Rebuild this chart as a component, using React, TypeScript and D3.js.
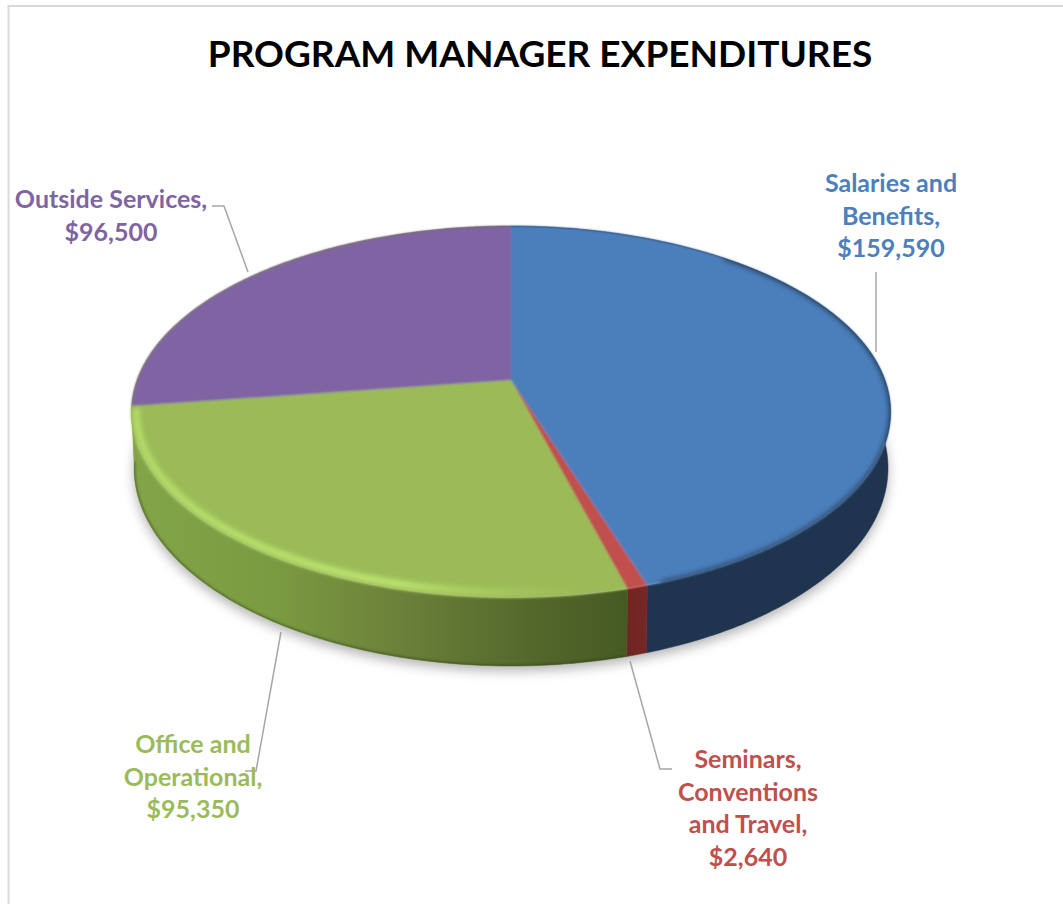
import React from "react";
import * as d3 from "d3";

const categories = ["Salaries and Benefits", "Seminars, Conventions and Travel", "Office and Operational", "Outside Services"];
const values = [159590, 2640, 95350, 96500];
const faceColors = ["#4c7fbc", "#c0504d", "#9bbb59", "#8064a2"];
const sideColors = ["#1f344f", "url(#redSide)", "url(#greenSide)", "url(#greenSide)"];
const labelLines = [
  ["Salaries and", "Benefits,", "$159,590"],
  ["Seminars,", "Conventions", "and Travel,", "$2,640"],
  ["Office and", "Operational,", "$95,350"],
  ["Outside Services,", "$96,500"],
];
const labelAnchors = [
  { x: 891, y: 192 },
  { x: 748, y: 768 },
  { x: 193, y: 753 },
  { x: 111, y: 208 },
];
const leaders = [
  [[876, 272], [876, 352]],
  [[630, 661], [660, 769], [672, 769]],
  [[245, 771], [256, 771], [281, 632]],
  [[212, 206], [224, 206], [248, 272]],
];

const W = 1063, H = 904;
const apex = { x: 511, y: 380 };
const persp = -0.172, ky = 180.5, kx = 374;
const rimCenterY = 412;

const project = (t: number) => {
  const X = Math.sin(t), Y = -Math.cos(t), w = 1 + persp * Y;
  return [apex.x + (kx * X) / w, apex.y + (ky * Y) / w];
};
const lower = ([x, y]: number[]) => [
  apex.x + (x - apex.x) * 0.993,
  y + 56 + (12 * (y - rimCenterY)) / 186,
];
const inset = ([x, y]: number[]) => [
  apex.x + (x - apex.x) * 0.987,
  rimCenterY + (y - rimCenterY) * 0.968,
];
const samples = (a: number, b: number) => {
  const n = Math.max(3, Math.ceil((b - a) / 0.01));
  return d3.range(n + 1).map((i) => a + ((b - a) * i) / n);
};
const line = d3.line<number[]>().x((d) => d[0]).y((d) => d[1]);
const arcsData = d3.pie<number>().sort(null).startAngle(0).endAngle(2 * Math.PI)(values);
const fullRim = samples(0, 2 * Math.PI).map(project);
const sideOutline = [
  ...samples(arcsData[0].startAngle + 0.5, arcsData[3].startAngle + 0.3).map(project),
  ...samples(arcsData[0].startAngle + 0.5, arcsData[3].startAngle + 0.3).map(project).map(lower).reverse(),
];

const labelFont = "Lato, 'Open Sans', sans-serif";

export default function App() {
  return (
    <svg width={W} height={H} viewBox={`0 0 ${W} ${H}`} style={{ position: "absolute", left: 0, top: 0, background: "#fff" }}>
      <defs>
        <filter id="shadowBlur" x="-10%" y="-10%" width="120%" height="120%"><feGaussianBlur stdDeviation="6" /></filter>
        <filter id="faceBlur" x="-5%" y="-5%" width="110%" height="110%"><feGaussianBlur stdDeviation="0.8" /></filter>
        <filter id="bevelBlur" x="-5%" y="-5%" width="110%" height="110%"><feGaussianBlur stdDeviation="2.6" /></filter>
        <filter id="edgeBlur" x="-5%" y="-5%" width="110%" height="110%"><feGaussianBlur stdDeviation="1.2" /></filter>
        <linearGradient id="greenSide" gradientUnits="userSpaceOnUse" x1="130" x2="625" y1="0" y2="0">
          <stop offset="0" stopColor="#83a548" />
          <stop offset="0.3" stopColor="#7a9a41" />
          <stop offset="0.55" stopColor="#6b8039" />
          <stop offset="0.8" stopColor="#55692c" />
          <stop offset="1" stopColor="#465a24" />
        </linearGradient>
        <linearGradient id="redSide" gradientUnits="userSpaceOnUse" x1="620" x2="645" y1="0" y2="0">
          <stop offset="0" stopColor="#6f2422" />
          <stop offset="1" stopColor="#742725" />
        </linearGradient>
        <linearGradient id="greenHi" gradientUnits="userSpaceOnUse" x1="130" x2="610" y1="0" y2="0">
          <stop offset="0" stopColor="#b5dc68" />
          <stop offset="0.55" stopColor="#bde66f" />
          <stop offset="0.8" stopColor="#aacd60" stopOpacity="0.6" />
          <stop offset="1" stopColor="#9bbb59" stopOpacity="0" />
        </linearGradient>
        <clipPath id="faceClip"><path d={line(fullRim) + "Z"} /></clipPath>
        <clipPath id="sideClip"><path d={line(sideOutline) + "Z"} /></clipPath>
      </defs>

      <rect x={8.5} y={6} width={W + 40} height={H + 40} fill="#fff" stroke="#d9d9d9" strokeWidth={2} />

      <text x={540} y={67} textAnchor="middle" fontFamily={labelFont} fontWeight={700} fontSize={37} fill="#000">
        PROGRAM MANAGER EXPENDITURES
      </text>

      {/* ground shadow */}
      <path
        d={line(fullRim.map(lower).map(([x, y]) => [x, y + 5])) + "Z"}
        fill="#9a9a9a"
        opacity={0.75}
        filter="url(#shadowBlur)"
      />

      {/* sides */}
      {arcsData.map((a, i) => {
        const top = samples(a.startAngle, a.endAngle).map(project);
        const bot = top.map(lower).reverse();
        return <path key={categories[i]} d={line([...top, ...bot]) + "Z"} fill={sideColors[i]} stroke={sideColors[i]} strokeWidth={0.5} />;
      })}
      <g clipPath="url(#sideClip)">
        <path
          d={line(samples(arcsData[2].startAngle, arcsData[2].endAngle).map(project).map(lower)) as string}
          fill="none"
          stroke="#33401a"
          strokeWidth={3}
          opacity={0.5}
          filter="url(#edgeBlur)"
        />
      </g>

      {/* faces */}
      <g filter="url(#faceBlur)">
        {arcsData.map((a, i) => {
          const rim = samples(a.startAngle, a.endAngle).map(project);
          return <path key={categories[i]} d={line([[apex.x, apex.y], ...rim]) + "Z"} fill={faceColors[i]} />;
        })}
      </g>

      {/* bevel on the rim */}
      <path
        d={line(samples(arcsData[2].startAngle + 0.02, arcsData[2].endAngle - 0.01).map(project).map(inset)) as string}
        fill="none"
        stroke="url(#greenHi)"
        strokeWidth={7}
        filter="url(#bevelBlur)"
      />
      <g clipPath="url(#faceClip)">
        <path
          d={line(samples(0.7, 2.8).map(project)) as string}
          fill="none"
          stroke="#27415f"
          strokeWidth={4}
          filter="url(#bevelBlur)"
        />
      </g>

      {/* leader lines */}
      {leaders.map((pts, i) => (
        <path key={i} d={line(pts) as string} fill="none" stroke="#a6a6a6" strokeWidth={1.5} />
      ))}

      {/* labels */}
      {labelLines.map((lines, i) => (
        <text key={i} textAnchor="middle" fontFamily={labelFont} fontWeight={700} fontSize={25} fill={faceColors[i]}>
          {lines.map((t, j) => (
            <tspan key={j} x={labelAnchors[i].x} y={labelAnchors[i].y + j * 32.5}>{t}</tspan>
          ))}
        </text>
      ))}
    </svg>
  );
}
